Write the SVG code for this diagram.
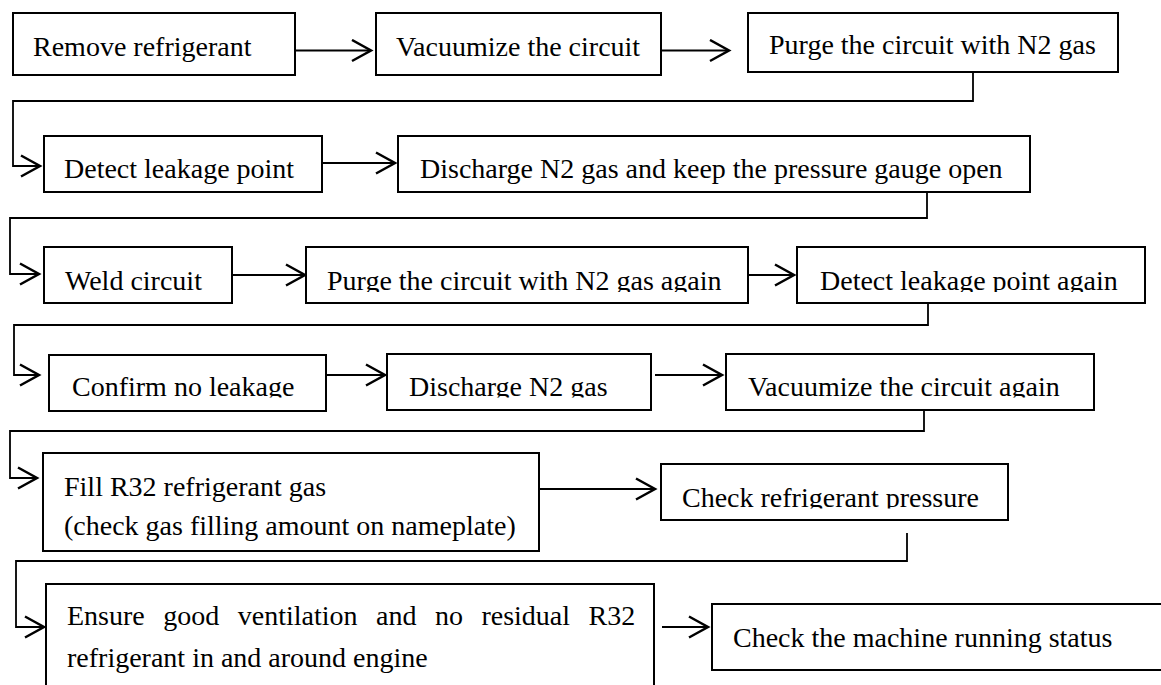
<svg xmlns="http://www.w3.org/2000/svg" width="1161" height="685" viewBox="0 0 1161 685">
<style>
.box{fill:#fff;stroke:#000;stroke-width:2}
.t{font-family:"Liberation Serif","Times New Roman",serif;font-size:28px;fill:#000}
.c{fill:none;stroke:#000;stroke-width:1.8}
.a{fill:none;stroke:#000;stroke-width:2.2}
</style>
<defs>
<marker id="ah" markerUnits="userSpaceOnUse" markerWidth="24" markerHeight="24" viewBox="0 0 24 24" refX="21" refY="12" orient="auto">
<path d="M2,1.5 L21,12 L2,22.5" fill="none" stroke="#000" stroke-width="2.5"/>
</marker>
<clipPath id="r3"><rect x="0" y="240" width="1161" height="52"/></clipPath>
<clipPath id="r4"><rect x="0" y="350" width="1161" height="47.5"/></clipPath>
<clipPath id="r5"><rect x="0" y="460" width="1161" height="48.5"/></clipPath>
</defs>
<rect width="1161" height="685" fill="#fff"/>
<g id="connectors">
<path class="c" marker-end="url(#ah)" d="M973,72 V101 H13 V166 H40"/>
<path class="c" marker-end="url(#ah)" d="M927,192 V218 H10 V274 H39"/>
<path class="c" marker-end="url(#ah)" d="M928,303 V325 H14 V375 H39"/>
<path class="c" marker-end="url(#ah)" d="M924,410 V431 H10 V478 H37"/>
<path class="c" marker-end="url(#ah)" d="M907,533 V561 H16 V627 H44"/>
<path class="a" marker-end="url(#ah)" d="M295,50.5 H371"/>
<path class="a" marker-end="url(#ah)" d="M661,50.5 H729"/>
<path class="a" marker-end="url(#ah)" d="M322,163 H395"/>
<path class="a" marker-end="url(#ah)" d="M232,275 H305"/>
<path class="a" marker-end="url(#ah)" d="M748,275 H794"/>
<path class="a" marker-end="url(#ah)" d="M319,375 H385"/>
<path class="a" marker-end="url(#ah)" d="M655,375 H722"/>
<path class="a" marker-end="url(#ah)" d="M540,489 H655"/>
<path class="a" marker-end="url(#ah)" d="M662,627 H708"/>
</g>
<g id="n1"><rect class="box" x="13" y="13" width="282" height="62"/><text class="t" x="33" y="56">Remove refrigerant</text></g>
<g id="n2"><rect class="box" x="376" y="13" width="285" height="62"/><text class="t" x="396" y="56">Vacuumize the circuit</text></g>
<g id="n3"><rect class="box" x="748" y="13" width="370" height="59"/><text class="t" x="769" y="54">Purge the circuit with N2 gas</text></g>
<g id="n4"><rect class="box" x="44" y="136" width="278" height="56"/><text class="t" x="64" y="178">Detect leakage point</text></g>
<g id="n5"><rect class="box" x="398" y="136" width="632" height="56"/><text class="t" x="420" y="178">Discharge N2 gas and keep the pressure gauge open</text></g>
<g id="n6"><rect class="box" x="44" y="247" width="188" height="56"/><text class="t" x="65" y="290">Weld circuit</text></g>
<g id="n7"><rect class="box" x="306" y="247" width="442" height="56"/><text class="t" x="327" y="290" clip-path="url(#r3)">Purge the circuit with N2 gas again</text></g>
<g id="n8"><rect class="box" x="797" y="247" width="348" height="56"/><text class="t" x="820" y="290" clip-path="url(#r3)">Detect leakage point again</text></g>
<g id="n9"><rect class="box" x="49" y="355" width="277" height="56"/><text class="t" x="72" y="396" clip-path="url(#r4)">Confirm no leakage</text></g>
<g id="n10"><rect class="box" x="387" y="354" width="264" height="56"/><text class="t" x="409" y="396" clip-path="url(#r4)">Discharge N2 gas</text></g>
<g id="n11"><rect class="box" x="726" y="354" width="368" height="56"/><text class="t" x="748" y="396" clip-path="url(#r4)">Vacuumize the circuit again</text></g>
<g id="n12"><rect class="box" x="43" y="453" width="496" height="98"/><text class="t" x="64" y="496">Fill R32 refrigerant gas</text><text class="t" x="64" y="535">(check gas filling amount on nameplate)</text></g>
<g id="n13"><rect class="box" x="661" y="464" width="347" height="56"/><text class="t" x="682" y="507" clip-path="url(#r5)">Check refrigerant pressure</text></g>
<g id="n14"><rect class="box" x="46" y="584" width="608" height="120"/><text class="t" x="67" y="625" word-spacing="11.5">Ensure good ventilation and no residual R32</text><text class="t" x="67" y="667">refrigerant in and around engine</text></g>
<g id="n15"><rect class="box" x="712" y="604" width="455" height="66"/><text class="t" x="733" y="647">Check the machine running status</text></g>
</svg>
